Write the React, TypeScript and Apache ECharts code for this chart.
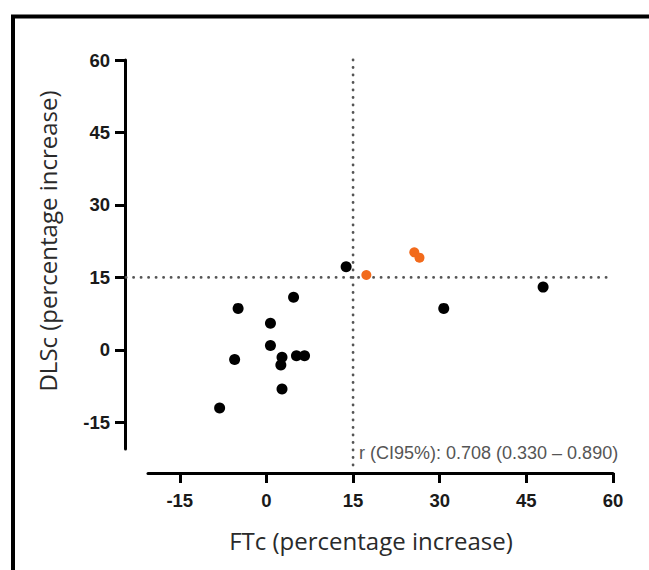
import React, { useEffect, useRef } from "react";
import * as echarts from "echarts";

// Black points: [FTc %, DLSc %]
const blackPoints: number[][] = [
  [13.8, 17.2],
  [4.7, 10.9],
  [-4.9, 8.6],
  [30.7, 8.6],
  [0.7, 5.5],
  [0.7, 0.9],
  [-5.5, -2.0],
  [2.7, -1.5],
  [2.5, -3.1],
  [5.2, -1.2],
  [6.6, -1.2],
  [2.7, -8.1],
  [-8.1, -12.0],
  [47.9, 13.0],
];

// Orange points
const orangePoints: number[][] = [
  [17.3, 15.5],
  [25.6, 20.2],
  [26.5, 19.1],
];

const tickValues = [-15, 0, 15, 30, 45, 60];
const axisMin = -20.5;
const axisMax = 60;

// Reference (threshold) lines at 15 %: [x1, y1, x2, y2]
const refLines: number[][] = [
  [15, 60, 15, -25],
  [-24.3, 15, 60, 15],
];

const xTitle = "FTc (percentage increase)";
const yTitle = "DLSc (percentage increase)";
const annotation = "r (CI95%): 0.708 (0.330 – 0.890)";

export default function App() {
  const ref = useRef<HTMLDivElement>(null);

  useEffect(() => {
    if (!ref.current) return;
    const chart = echarts.init(ref.current, null, { renderer: "svg" });

    const axisCommon = {
      type: "value" as const,
      min: axisMin,
      max: axisMax,
      splitLine: { show: false },
      axisLine: {
        show: true,
        onZero: false,
        lineStyle: { color: "#000", width: 3 },
      },
      axisTick: {
        show: true,
        length: 10,
        customValues: tickValues,
        lineStyle: { color: "#000", width: 3 },
      },
      axisLabel: {
        customValues: tickValues,
        color: "#1a1a1a",
        fontFamily: "Liberation Sans, Arial, sans-serif",
        fontWeight: "bold" as const,
        fontSize: 18.5,
      },
    };

    chart.setOption({
      animation: false,
      backgroundColor: "#fff",
      grid: { left: 148, right: 36, top: 60, bottom: 121 },
      xAxis: {
        ...axisCommon,
        offset: 24,
        axisLabel: { ...axisCommon.axisLabel, margin: 18 },
      },
      yAxis: {
        ...axisCommon,
        offset: 23,
        axisLabel: { ...axisCommon.axisLabel, margin: 15 },
      },
      graphic: [
        {
          type: "rect",
          left: 10.5,
          top: 14,
          shape: { x: 0, y: 0, width: 700, height: 700 },
          style: { fill: "none", stroke: "#000", lineWidth: 4 },
          silent: true,
        },
        {
          type: "text",
          x: 371,
          y: 540,
          style: {
            text: xTitle,
            fill: "#2a2a2a",
            font: "24px 'Open Sans', sans-serif",
            align: "center",
            verticalAlign: "middle",
          },
        },
        {
          type: "text",
          x: 47,
          y: 241,
          rotation: Math.PI / 2,
          style: {
            text: yTitle,
            fill: "#2a2a2a",
            font: "24px 'Open Sans', sans-serif",
            align: "center",
            verticalAlign: "middle",
          },
        },
        {
          type: "text",
          x: 359,
          y: 453,
          style: {
            text: annotation,
            fill: "#555",
            font: "18px 'Liberation Sans', Arial, sans-serif",
            align: "left",
            verticalAlign: "middle",
          },
        },
      ],
      series: [
        {
          type: "custom",
          data: refLines,
          clip: false,
          silent: true,
          z: 1,
          renderItem: (_params: any, api: any) => {
            const p1 = api.coord([api.value(0), api.value(1)]);
            const p2 = api.coord([api.value(2), api.value(3)]);
            return {
              type: "line",
              shape: { x1: p1[0], y1: p1[1], x2: p2[0], y2: p2[1] },
              style: {
                stroke: "#555",
                lineWidth: 2.8,
                lineDash: [0.1, 7.4],
                lineCap: "round",
              },
            };
          },
        },
        {
          type: "scatter",
          data: blackPoints,
          symbol: "circle",
          symbolSize: 11,
          itemStyle: { color: "#000", opacity: 1 },
          z: 3,
        },
        {
          type: "scatter",
          data: orangePoints,
          symbol: "circle",
          symbolSize: 10,
          itemStyle: { color: "#F26A1B", opacity: 1 },
          z: 3,
        },
      ],
    });

    return () => chart.dispose();
  }, []);

  return (
    <div
      ref={ref}
      style={{ position: "absolute", left: 0, top: 0, width: 649, height: 570 }}
    />
  );
}
